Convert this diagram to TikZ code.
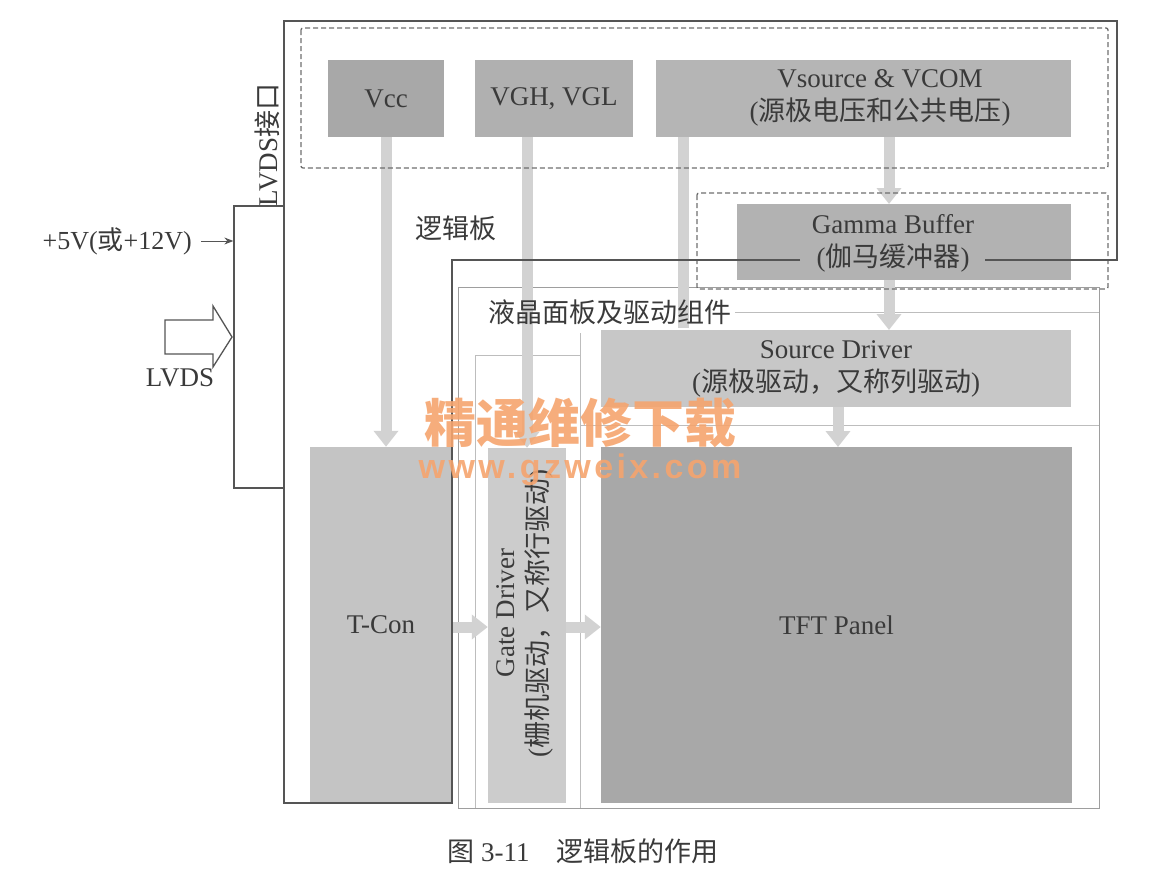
\documentclass[tikz,border=0pt]{standalone}
\usepackage{fontspec}
\setmainfont{Liberation Serif}
\newfontfamily\cjk{Noto Sans CJK SC}
\newfontfamily\wmsans[LetterSpace=10]{Liberation Sans}
\usetikzlibrary{arrows.meta,calc}
\newcommand{\zh}[1]{{\cjk #1}}
\newcommand{\lblsize}{\fontsize{27}{33}\selectfont}
\definecolor{txt}{HTML}{3A3A3A}
\definecolor{edge}{HTML}{555555}
\definecolor{thin}{HTML}{BDBDBD}
\definecolor{flow}{HTML}{D2D2D2}
\definecolor{wm}{HTML}{F5A46E}
\tikzset{
  blk/.style={fill=#1, draw=none, inner sep=0pt, text=txt, align=center, font=\lblsize},
  lbl/.style={text=txt, align=center, inner sep=0pt, font=\lblsize},
  flowarrow/.style={draw=flow, line width=11pt, -{Triangle[width=24pt,length=16pt]}},
  flowbar/.style={draw=flow, line width=11pt},
  board/.style={draw=edge, line width=1.3pt},
  dashbox/.style={draw=edge!85, line width=1.3pt, dash pattern=on 5pt off 3pt, rounded corners=2pt},
  thinline/.style={draw=thin, line width=0.9pt},
}
\begin{document}
\begin{tikzpicture}[x=1pt,y=-1pt]
\useasboundingbox (0,0) rectangle (1164,881);

% gray blocks
\node[blk=black!34, minimum width=116pt, minimum height=77pt] (vcc) at (386,98.5) {Vcc};
\node[blk=black!31, minimum width=158pt, minimum height=77pt] (vgh) at (554,98.5) {VGH, VGL};
\node[blk=black!29, minimum width=415pt, minimum height=77pt] (vs) at (863.5,98.5) {};
\node[lbl] (vslbl) at (880,98) {Vsource \& VCOM\\(\zh{源极电压和公共电压})};
\node[blk=black!30, minimum width=334pt, minimum height=76pt] (gam) at (904,242) {};
\node[lbl] (gamlbl) at (893,243) {Gamma Buffer\\(\zh{伽马缓冲器})};
\node[blk=black!22, minimum width=470pt, minimum height=77pt] (src) at (836,368.5) {Source Driver\\(\zh{源极驱动，又称列驱动})};
\node[blk=black!34, minimum width=471pt, minimum height=356pt] (tft) at (836.5,625) {TFT Panel};
\node[blk=black!23, minimum width=142pt, minimum height=356pt] (tcon) at (381,625) {T-Con};
\node[blk=black!20, minimum width=78pt, minimum height=355pt] (gate) at (527,625.5) {};
\node[lbl, rotate=90] (gatelbl) at (525,613) {Gate Driver\\(\zh{栅机驱动，又称行驱动})};

% thin panel lines
\draw[draw=black!38, line width=1pt] (458,287) rectangle (1099,808);
\draw[thinline] (475,808) -- (475,355) -- (580,355);
\draw[thinline] (580,333) -- (580,808);
\draw[thinline] (735,312) -- (1099,312);
\draw[thinline] (580,425) -- (1099,425);

% flow arrows
\draw[flowarrow] (vcc.south) -- (vcc.south |- tcon.north);
\draw[flowarrow] ([xshift=-27pt]vgh.south) -- ([xshift=-27pt]vgh.south |- gate.north);
\draw[flowbar] (683,137) -- (683,328);
\draw[flowarrow] (889,137) -- (889,204);
\draw[flowarrow] (889,280) -- (889,330);
\draw[flowarrow] (838,407) -- (838,447);
\draw[flowarrow] (tcon.east |- 0,627) -- (gate.west |- 0,627);
\draw[flowarrow] (gate.east |- 0,627) -- (tft.west |- 0,627);

% dashed groups
\draw[dashbox] (301,28) rectangle (1108,168);
\draw[dashbox] (697,193) rectangle (1108,289);

% logic board outline with gap for gamma label
\draw[board] (800,260) -- (452,260) -- (452,803) -- (284,803) -- (284,21) -- (1117,21) -- (1117,260) -- (985,260);

% LVDS interface
\node[draw=edge, line width=1.3pt, minimum width=50pt, minimum height=282pt, inner sep=0pt] (lvds) at (259,347) {};
\node[lbl, rotate=90] (lvdslbl) at (267,145) {LVDS\zh{接口}};
\node[lbl, anchor=east, font=\fontsize{26}{32}\selectfont] (pwr) at (192,241) {+5V(\zh{或}+12V)};
\coordinate (pwrend) at (lvds.west |- 0,241);
\draw[edge, line width=1pt, -{Stealth[length=9pt,width=7pt]}] (201,241) -- (pwrend);
\draw[edge, line width=1.3pt, fill=white, line join=miter] (165,320) -- (213,320) -- (213,306) -- (232,337) -- (213,367) -- (213,354) -- (165,354) -- cycle;
\node[lbl] (lvdsin) at (180,378) {LVDS};

% region labels
\node[lbl] (logic) at (456,228) {\zh{逻辑板}};
\node[lbl] (panel) at (610,312) {\zh{液晶面板及驱动组件}};

% watermark
\node[text=wm, opacity=0.9, inner sep=0pt, font={\fontsize{52}{56}\selectfont\cjk\bfseries}] (wm1) at (580,423) {精通维修下载};
\node[text=wm, opacity=0.9, inner sep=0pt, font={\fontsize{34}{38}\selectfont\wmsans\bfseries}] (wm2) at (580,470) {www.gzweix.com};

% caption
\node[lbl] (cap) at (583,851) {\zh{图} 3-11\quad\zh{逻辑板的作用}};
\end{tikzpicture}
\end{document}
